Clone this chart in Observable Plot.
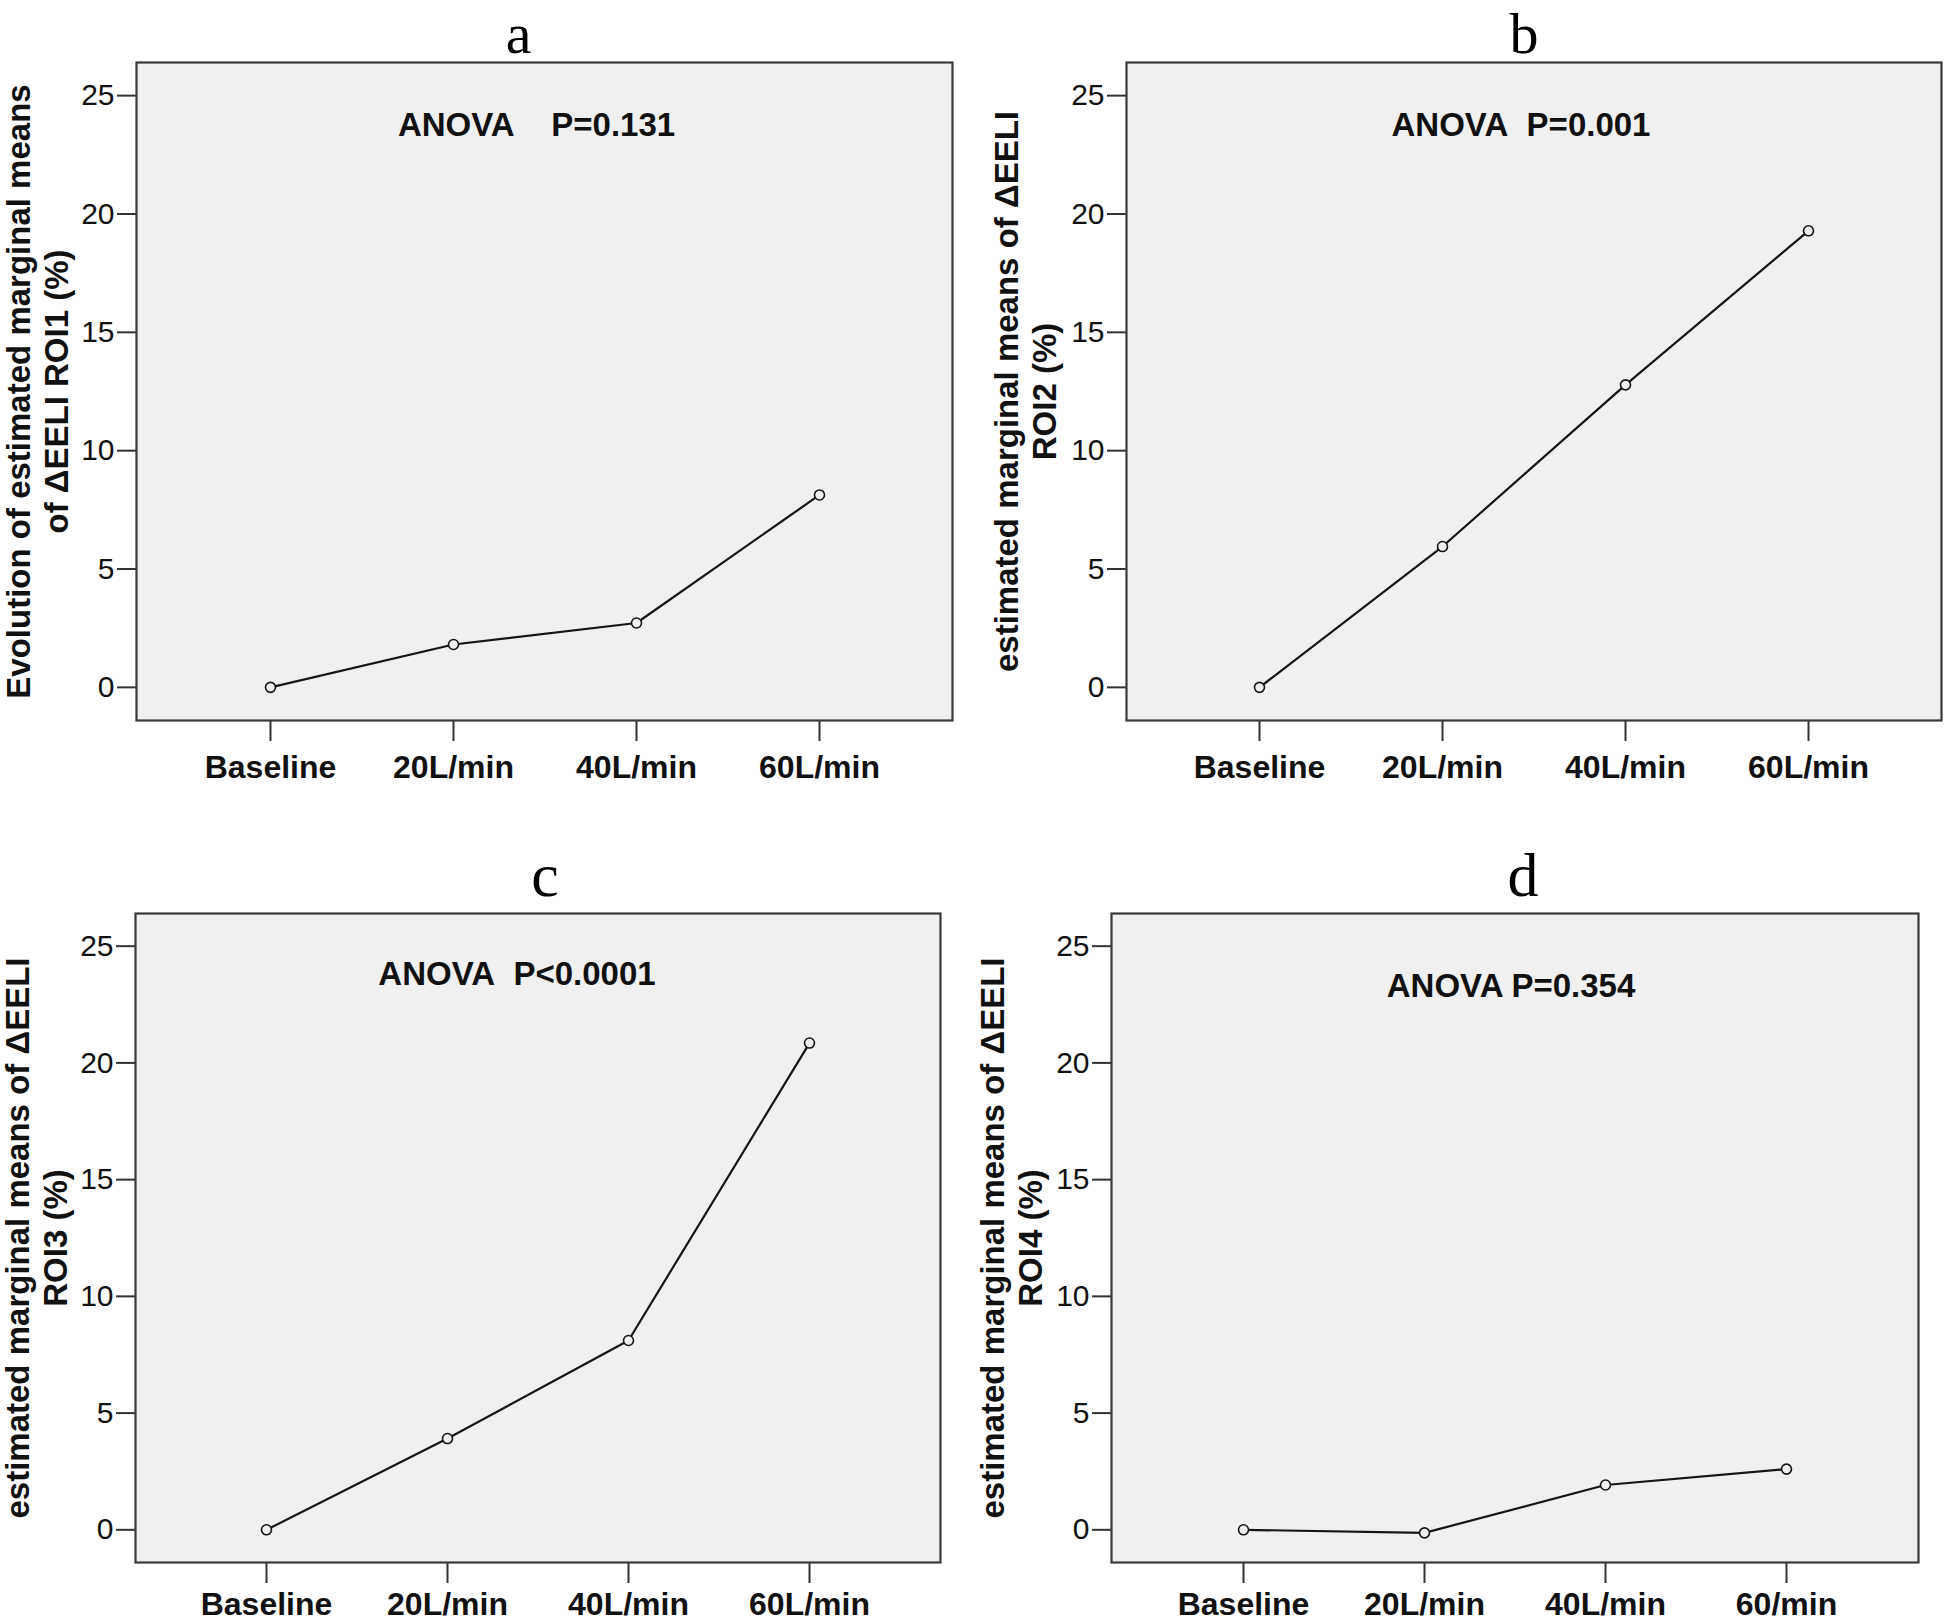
<!DOCTYPE html>
<html>
<head>
<meta charset="utf-8">
<script src="https://cdn.jsdelivr.net/npm/d3@7"></script>
<script src="https://cdn.jsdelivr.net/npm/@observablehq/plot@0.6"></script>
<style>
  html, body { margin: 0; padding: 0; background: #ffffff; }
  #wrap { position: relative; width: 1946px; height: 1622px; overflow: hidden; background: #ffffff; }
  .panel { position: absolute; }
</style>
</head>
<body>
<div id="wrap"></div>
<script>
// ---------- data ----------
const categories  = ["Baseline", "20L/min", "40L/min", "60L/min"];
const categoriesD = ["Baseline", "20L/min", "40L/min", "60/min"];
const roi1 = [0, 1.81, 2.72, 8.13];
const roi2 = [0, 5.95, 12.78, 19.29];
const roi3 = [0, 3.91, 8.11, 20.85];
const roi4 = [0, -0.13, 1.92, 2.60];
const yTicks = [0, 5, 10, 15, 20, 25];
const panelLetters = ["a", "b", "c", "d"];
const anovaLabels = [
  "ANOVA\u00a0\u00a0\u00a0\u00a0P=0.131",
  "ANOVA\u00a0\u00a0P=0.001",
  "ANOVA\u00a0\u00a0P<0.0001",
  "ANOVA P=0.354"
];
const yLabels = [
  "Evolution of estimated marginal means\nof \u0394EELI ROI1 (%)",
  "estimated marginal means of \u0394EELI\nROI2 (%)",
  "estimated marginal means of \u0394EELI\nROI3 (%)",
  "estimated marginal means of \u0394EELI\nROI4 (%)"
];

// ---------- layout (positions / sizes only) ----------
const layout = [
  {left: 0,   top: 0,   width: 973, height: 800, mL: 136, mR: 21, mT: 62, mB: 80, labDx: -100, anDx: -8,  anDy: 63, tDx: -26, tDy: -10, tSize: 58, tickPad: 14},
  {left: 973, top: 0,   width: 973, height: 800, mL: 153, mR: 5,  mT: 62, mB: 80, labDx: -102, anDx: -13, anDy: 63, tDx: -10, tDy: -10, tSize: 58, tickPad: 14},
  {left: 0,   top: 820, width: 973, height: 802, mL: 135, mR: 33, mT: 93, mB: 60, labDx: -100, anDx: -21, anDy: 61, tDx: 7,   tDy: -18, tSize: 62, tickPad: 9},
  {left: 973, top: 820, width: 973, height: 802, mL: 138, mR: 28, mT: 93, mB: 60, labDx: -101, anDx: -4,  anDy: 73, tDx: 8,   tDy: -18, tSize: 62, tickPad: 9}
];

const series = [roi1, roi2, roi3, roi4];
const cats = [categories, categories, categories, categoriesD];

const sans = "'Liberation Sans', Arial, Helvetica, sans-serif";
const serif = "'Liberation Serif', 'Times New Roman', Times, serif";
const wrap = document.getElementById("wrap");

series.forEach((vals, i) => {
  const L = layout[i];
  const data = cats[i].map((c, j) => ({cat: c, v: vals[j]}));
  const chart = Plot.plot({
    width: L.width,
    height: L.height,
    marginLeft: L.mL,
    marginRight: L.mR,
    marginTop: L.mT,
    marginBottom: L.mB,
    style: {fontFamily: sans, background: "transparent", overflow: "visible", color: "#111"},
    x: {type: "point", domain: cats[i], padding: 0.72},
    y: {domain: [-1.4, 26.4]},
    marks: [
      Plot.frame({fill: "#f0f0f0", stroke: null}),
      Plot.axisY({ticks: yTicks, tickSize: 19, tickPadding: 3, fontSize: 30, label: null,
                  stroke: "#333", strokeWidth: 2, fill: "#111"}),
      Plot.axisX({tickSize: 21, tickPadding: L.tickPad, fontSize: 32, fontWeight: "bold", label: null,
                  stroke: "#333", strokeWidth: 2, fill: "#111"}),
      Plot.line(data, {x: "cat", y: "v", stroke: "#151515", strokeWidth: 2.2}),
      Plot.dot(data, {x: "cat", y: "v", r: 5, stroke: "#151515", strokeWidth: 1.6, fill: "#f0f0f0"}),
      Plot.frame({stroke: "#3a3a3a", strokeWidth: 2.2, fill: null}),
      Plot.text([anovaLabels[i]], {text: d => d, frameAnchor: "top", dx: L.anDx, dy: L.anDy,
                lineAnchor: "middle", fontSize: 33, fontWeight: "bold", fill: "#111"}),
      Plot.text([yLabels[i]], {text: d => d, frameAnchor: "left", rotate: -90, dx: L.labDx,
                lineAnchor: "middle", textAnchor: "middle", lineHeight: 1.17,
                fontSize: 33, fontWeight: "bold", fill: "#111"}),
      Plot.text([panelLetters[i]], {text: d => d, frameAnchor: "top", dx: L.tDx, dy: L.tDy,
                lineAnchor: "bottom", fontSize: L.tSize, fontFamily: serif, fill: "#000"})
    ]
  });
  const holder = document.createElement("div");
  holder.className = "panel";
  holder.style.left = L.left + "px";
  holder.style.top = L.top + "px";
  holder.appendChild(chart);
  wrap.appendChild(holder);
});
</script>
</body>
</html>
